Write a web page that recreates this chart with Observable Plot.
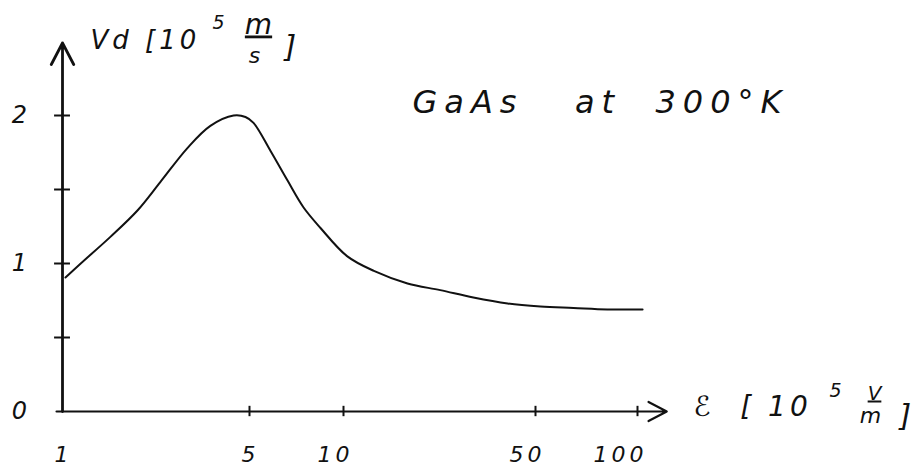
<!DOCTYPE html>
<html><head><meta charset="utf-8">
<script src="https://cdn.jsdelivr.net/npm/d3@7"></script>
<script src="https://cdn.jsdelivr.net/npm/@observablehq/plot@0.6"></script>
<style>
body{margin:0;background:#fff;}
svg text{white-space:pre;}
</style></head><body><div id="chart"></div>
<script>
// GaAs drift velocity vs. electric field (hand-drawn, log x axis)
const fieldE = [1.026,1.17,1.51,1.91,2.32,2.93,3.57,4.36,4.83,5.15,5.84,6.62,7.44,8.44,10.3,12.9,17.1,22.5,29.7,39.6,51.7,64.7,81.5,103.5];
const vDrift = [0.905,1.00,1.18,1.36,1.55,1.78,1.93,2.00,1.99,1.95,1.76,1.56,1.38,1.24,1.05,0.95,0.865,0.82,0.77,0.73,0.71,0.70,0.69,0.69];
const xTickValues = [5,10,50,100];
const xLabelValues = [1,5,10,50,100];
const xTickLabels = ["1","5","10","50","100"];
const yTickValues = [0.5,1,1.5,2];
const yLabelValues = [0,1,2];
const yTickLabels = ["0","1","2"];
const xAxisEnd = 122;   // arrow tip of E axis (data units)
const yAxisEnd = 2.49;  // arrow tip of Vd axis (data units)
const titleText = "GaAs   at  300°K";
const yUnitText = ["Vd [10", "5", "m", "s", "]"];
const xUnitText = ["ℰ  [ 10", "5", "V", "m", "]"];

const curve = fieldE.map((e, i) => ({e, v: vDrift[i]}));
const font = "DejaVu Sans";
const hand = {fontFamily: font, fontStyle: "italic", fill: "#111"};

function label(t, dx, dy, size, anchor = "start") {
  return Plot.text([t], {frameAnchor: "top-left", dx, dy, text: d => d, fontSize: size, textAnchor: anchor, lineAnchor: "bottom", ...hand});
}

const chart = Plot.plot({
  width: 921,
  height: 468,
  margin: 0,
  style: {fontFamily: font, background: "#fff", overflow: "visible"},
  x: {type: "log", domain: [1, 5, 10, 50, 100], range: [62, 249, 343, 535, 637], axis: null},
  y: {domain: [0, 2], range: [411, 115], axis: null},
  marks: [
    Plot.arrow([0], {x1: 0.95, x2: xAxisEnd, y1: 0, y2: 0, stroke: "#111", strokeWidth: 2.2, headLength: 14, headAngle: 55}),
    Plot.arrow([0], {x1: 1, x2: 1, y1: 0, y2: yAxisEnd, stroke: "#111", strokeWidth: 2.8, headLength: 13, headAngle: 55}),
    Plot.ruleX(xTickValues, {x: d => d, y1: -0.035, y2: 0.035, stroke: "#111", strokeWidth: 2}),
    Plot.ruleY(yTickValues, {y: d => d, x1: 0.934, x2: 1.071, stroke: "#111", strokeWidth: 2}),
    Plot.line(curve, {x: "e", y: "v", curve: "catmull-rom", stroke: "#111", strokeWidth: 2}),
    Plot.text(xLabelValues, {x: d => d, y: 0, text: (d, i) => xTickLabels[i], dy: 43, dx: 10, textAnchor: "end", fontSize: 22, ...hand}),
    Plot.text(yLabelValues, {x: 1, y: d => d, text: (d, i) => yTickLabels[i], dx: -41, fontSize: 24, ...hand}),
    // title
    label(titleText, 412, 112, 32),
    // y-axis unit label
    label(yUnitText[0], 90, 48, 26),
    label(yUnitText[1], 212, 28, 19),
    label(yUnitText[2], 258, 33, 28, "middle"),
    label(yUnitText[3], 256, 62, 22, "middle"),
    label(yUnitText[4], 284, 56, 30),
    // x-axis unit label
    label(xUnitText[0], 693, 415, 28),
    label(xUnitText[1], 829, 396, 19),
    label(xUnitText[2], 874, 399, 20, "middle"),
    label(xUnitText[3], 872, 422, 22, "middle"),
    label(xUnitText[4], 899, 425, 30)
  ]
});

const texts = d3.select(chart).selectAll("text");
texts.style("letter-spacing", "4px");
texts.filter(function() { return this.textContent === titleText; }).style("letter-spacing", "7px");
// fraction bars drawn as underline of the numerators (first "m" is the m/s numerator)
const numerators = [
  texts.filter(function() { return this.textContent === "m"; }).nodes()[0],
  texts.filter(function() { return this.textContent === "V"; }).nodes()[0]
];
d3.selectAll(numerators).style("letter-spacing", "0px").style("text-decoration", "underline");
document.getElementById("chart").appendChild(chart);
</script></body></html>
